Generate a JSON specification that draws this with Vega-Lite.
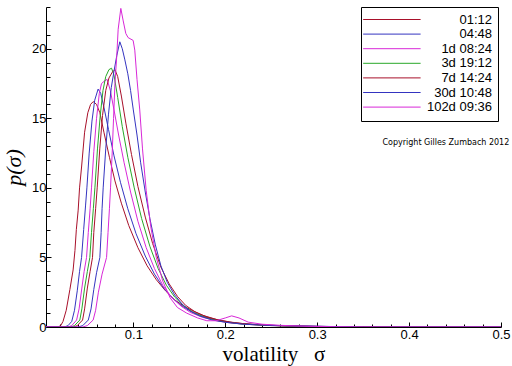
{
"$schema": "https://vega.github.io/schema/vega-lite/v6.json",
"width": 455, "height": 320,
"autosize": {"type": "none"},
"padding": {"left": 46, "top": 7, "right": 11, "bottom": 39},
"background": "white",
"config": {"view": {"stroke": null}, "axis": {"grid": false, "domainColor": "black", "tickColor": "black", "labelColor": "black", "labelFont": "Liberation Sans", "labelFontSize": 13, "titleColor": "black", "titleFont": "Liberation Serif", "titleFontWeight": "normal"}},
"resolve": {"axis": {"x": "independent", "y": "independent"}},
"datasets": {
"curves": [
{"series":"01:12","sigma":0.005,"p":0},{"series":"01:12","sigma":0.018,"p":0},{"series":"01:12","sigma":0.021,"p":0.1},{"series":"01:12","sigma":0.0235,"p":0.4},{"series":"01:12","sigma":0.027,"p":1.2},{"series":"01:12","sigma":0.031,"p":2.7},{"series":"01:12","sigma":0.0345,"p":4.1},{"series":"01:12","sigma":0.0365,"p":5.5},{"series":"01:12","sigma":0.038,"p":7.0},{"series":"01:12","sigma":0.04,"p":8.4},{"series":"01:12","sigma":0.0415,"p":10},{"series":"01:12","sigma":0.0437,"p":11.5},{"series":"01:12","sigma":0.047,"p":14},{"series":"01:12","sigma":0.0505,"p":15.4},{"series":"01:12","sigma":0.0535,"p":16.0},{"series":"01:12","sigma":0.0563,"p":16.2},{"series":"01:12","sigma":0.06,"p":16.0},{"series":"01:12","sigma":0.0636,"p":15.4},{"series":"01:12","sigma":0.068,"p":14.0},{"series":"01:12","sigma":0.074,"p":12.2},{"series":"01:12","sigma":0.08,"p":10.5},{"series":"01:12","sigma":0.087,"p":8.9},{"series":"01:12","sigma":0.095,"p":7.3},{"series":"01:12","sigma":0.105,"p":5.7},{"series":"01:12","sigma":0.115,"p":4.4},{"series":"01:12","sigma":0.125,"p":3.4},{"series":"01:12","sigma":0.135,"p":2.6},{"series":"01:12","sigma":0.145,"p":1.95},{"series":"01:12","sigma":0.155,"p":1.5},{"series":"01:12","sigma":0.165,"p":1.15},{"series":"01:12","sigma":0.175,"p":0.85},{"series":"01:12","sigma":0.19,"p":0.55},{"series":"01:12","sigma":0.205,"p":0.36},{"series":"01:12","sigma":0.22,"p":0.24},{"series":"01:12","sigma":0.25,"p":0.12},{"series":"01:12","sigma":0.28,"p":0.06},{"series":"01:12","sigma":0.32,"p":0.03},{"series":"01:12","sigma":0.38,"p":0.01},{"series":"01:12","sigma":0.42,"p":0},{"series":"01:12","sigma":0.5,"p":0},

{"series":"04:48","sigma":0.005,"p":0},{"series":"04:48","sigma":0.025,"p":0},{"series":"04:48","sigma":0.029,"p":0.1},{"series":"04:48","sigma":0.033,"p":0.4},{"series":"04:48","sigma":0.036,"p":1.2},{"series":"04:48","sigma":0.039,"p":2.6},{"series":"04:48","sigma":0.0415,"p":4.0},{"series":"04:48","sigma":0.0437,"p":5.0},{"series":"04:48","sigma":0.046,"p":7.0},{"series":"04:48","sigma":0.048,"p":8.7},{"series":"04:48","sigma":0.0495,"p":10},{"series":"04:48","sigma":0.052,"p":12.5},{"series":"04:48","sigma":0.055,"p":14.8},{"series":"04:48","sigma":0.058,"p":16.3},{"series":"04:48","sigma":0.0617,"p":17.1},{"series":"04:48","sigma":0.0645,"p":16.8},{"series":"04:48","sigma":0.068,"p":15.8},{"series":"04:48","sigma":0.073,"p":14.2},{"series":"04:48","sigma":0.079,"p":12.3},{"series":"04:48","sigma":0.086,"p":10.4},{"series":"04:48","sigma":0.094,"p":8.5},{"series":"04:48","sigma":0.103,"p":6.7},{"series":"04:48","sigma":0.113,"p":5.1},{"series":"04:48","sigma":0.123,"p":3.8},{"series":"04:48","sigma":0.133,"p":2.8},{"series":"04:48","sigma":0.143,"p":2.05},{"series":"04:48","sigma":0.153,"p":1.5},{"series":"04:48","sigma":0.163,"p":1.1},{"series":"04:48","sigma":0.175,"p":0.78},{"series":"04:48","sigma":0.19,"p":0.5},{"series":"04:48","sigma":0.205,"p":0.33},{"series":"04:48","sigma":0.22,"p":0.22},{"series":"04:48","sigma":0.25,"p":0.12},{"series":"04:48","sigma":0.28,"p":0.07},{"series":"04:48","sigma":0.31,"p":0.04},{"series":"04:48","sigma":0.335,"p":0.02},{"series":"04:48","sigma":0.36,"p":0},{"series":"04:48","sigma":0.5,"p":0},

{"series":"1d 08:24","sigma":0.005,"p":0},{"series":"1d 08:24","sigma":0.029,"p":0},{"series":"1d 08:24","sigma":0.033,"p":0.1},{"series":"1d 08:24","sigma":0.0383,"p":0.5},{"series":"1d 08:24","sigma":0.041,"p":1.3},{"series":"1d 08:24","sigma":0.044,"p":2.8},{"series":"1d 08:24","sigma":0.0465,"p":4.0},{"series":"1d 08:24","sigma":0.0491,"p":5.0},{"series":"1d 08:24","sigma":0.051,"p":6.8},{"series":"1d 08:24","sigma":0.053,"p":8.5},{"series":"1d 08:24","sigma":0.0545,"p":10},{"series":"1d 08:24","sigma":0.057,"p":12.6},{"series":"1d 08:24","sigma":0.06,"p":15},{"series":"1d 08:24","sigma":0.063,"p":16.8},{"series":"1d 08:24","sigma":0.0654,"p":17.5},{"series":"1d 08:24","sigma":0.069,"p":17.7},{"series":"1d 08:24","sigma":0.0715,"p":17.8},{"series":"1d 08:24","sigma":0.075,"p":17.0},{"series":"1d 08:24","sigma":0.079,"p":15.6},{"series":"1d 08:24","sigma":0.084,"p":13.8},{"series":"1d 08:24","sigma":0.09,"p":11.8},{"series":"1d 08:24","sigma":0.097,"p":9.7},{"series":"1d 08:24","sigma":0.105,"p":7.6},{"series":"1d 08:24","sigma":0.114,"p":5.7},{"series":"1d 08:24","sigma":0.123,"p":4.2},{"series":"1d 08:24","sigma":0.132,"p":3.0},{"series":"1d 08:24","sigma":0.142,"p":2.1},{"series":"1d 08:24","sigma":0.152,"p":1.5},{"series":"1d 08:24","sigma":0.162,"p":1.05},{"series":"1d 08:24","sigma":0.175,"p":0.7},{"series":"1d 08:24","sigma":0.19,"p":0.45},{"series":"1d 08:24","sigma":0.205,"p":0.3},{"series":"1d 08:24","sigma":0.22,"p":0.2},{"series":"1d 08:24","sigma":0.25,"p":0.1},{"series":"1d 08:24","sigma":0.28,"p":0.05},{"series":"1d 08:24","sigma":0.31,"p":0.02},{"series":"1d 08:24","sigma":0.34,"p":0},{"series":"1d 08:24","sigma":0.5,"p":0},

{"series":"3d 19:12","sigma":0.005,"p":0},{"series":"3d 19:12","sigma":0.032,"p":0},{"series":"3d 19:12","sigma":0.036,"p":0.1},{"series":"3d 19:12","sigma":0.0418,"p":0.5},{"series":"3d 19:12","sigma":0.044,"p":1.3},{"series":"3d 19:12","sigma":0.047,"p":2.8},{"series":"3d 19:12","sigma":0.05,"p":4.0},{"series":"3d 19:12","sigma":0.0527,"p":5.0},{"series":"3d 19:12","sigma":0.0545,"p":6.8},{"series":"3d 19:12","sigma":0.0565,"p":8.5},{"series":"3d 19:12","sigma":0.0582,"p":10},{"series":"3d 19:12","sigma":0.061,"p":12.8},{"series":"3d 19:12","sigma":0.064,"p":15.2},{"series":"3d 19:12","sigma":0.067,"p":17.0},{"series":"3d 19:12","sigma":0.07,"p":18.0},{"series":"3d 19:12","sigma":0.0735,"p":18.5},{"series":"3d 19:12","sigma":0.0763,"p":18.6},{"series":"3d 19:12","sigma":0.079,"p":18.1},{"series":"3d 19:12","sigma":0.083,"p":16.5},{"series":"3d 19:12","sigma":0.088,"p":14.4},{"series":"3d 19:12","sigma":0.094,"p":12.2},{"series":"3d 19:12","sigma":0.101,"p":10.0},{"series":"3d 19:12","sigma":0.109,"p":7.8},{"series":"3d 19:12","sigma":0.118,"p":5.8},{"series":"3d 19:12","sigma":0.127,"p":4.2},{"series":"3d 19:12","sigma":0.136,"p":3.0},{"series":"3d 19:12","sigma":0.145,"p":2.15},{"series":"3d 19:12","sigma":0.155,"p":1.5},{"series":"3d 19:12","sigma":0.165,"p":1.05},{"series":"3d 19:12","sigma":0.178,"p":0.7},{"series":"3d 19:12","sigma":0.19,"p":0.48},{"series":"3d 19:12","sigma":0.205,"p":0.32},{"series":"3d 19:12","sigma":0.22,"p":0.2},{"series":"3d 19:12","sigma":0.25,"p":0.1},{"series":"3d 19:12","sigma":0.28,"p":0.05},{"series":"3d 19:12","sigma":0.31,"p":0.02},{"series":"3d 19:12","sigma":0.34,"p":0},{"series":"3d 19:12","sigma":0.5,"p":0},

{"series":"7d 14:24","sigma":0.005,"p":0},{"series":"7d 14:24","sigma":0.035,"p":0},{"series":"7d 14:24","sigma":0.039,"p":0.1},{"series":"7d 14:24","sigma":0.0448,"p":0.5},{"series":"7d 14:24","sigma":0.047,"p":1.3},{"series":"7d 14:24","sigma":0.05,"p":2.8},{"series":"7d 14:24","sigma":0.053,"p":4.0},{"series":"7d 14:24","sigma":0.0556,"p":5.0},{"series":"7d 14:24","sigma":0.057,"p":6.8},{"series":"7d 14:24","sigma":0.059,"p":8.5},{"series":"7d 14:24","sigma":0.0607,"p":10},{"series":"7d 14:24","sigma":0.0635,"p":12.8},{"series":"7d 14:24","sigma":0.0665,"p":15.2},{"series":"7d 14:24","sigma":0.07,"p":17.0},{"series":"7d 14:24","sigma":0.0735,"p":17.9},{"series":"7d 14:24","sigma":0.077,"p":18.3},{"series":"7d 14:24","sigma":0.08,"p":18.5},{"series":"7d 14:24","sigma":0.083,"p":18.0},{"series":"7d 14:24","sigma":0.087,"p":16.6},{"series":"7d 14:24","sigma":0.092,"p":14.6},{"series":"7d 14:24","sigma":0.098,"p":12.4},{"series":"7d 14:24","sigma":0.105,"p":10.1},{"series":"7d 14:24","sigma":0.113,"p":7.9},{"series":"7d 14:24","sigma":0.121,"p":6.0},{"series":"7d 14:24","sigma":0.13,"p":4.3},{"series":"7d 14:24","sigma":0.139,"p":3.1},{"series":"7d 14:24","sigma":0.148,"p":2.2},{"series":"7d 14:24","sigma":0.157,"p":1.55},{"series":"7d 14:24","sigma":0.167,"p":1.1},{"series":"7d 14:24","sigma":0.18,"p":0.72},{"series":"7d 14:24","sigma":0.195,"p":0.46},{"series":"7d 14:24","sigma":0.21,"p":0.3},{"series":"7d 14:24","sigma":0.23,"p":0.18},{"series":"7d 14:24","sigma":0.26,"p":0.09},{"series":"7d 14:24","sigma":0.29,"p":0.05},{"series":"7d 14:24","sigma":0.33,"p":0.02},{"series":"7d 14:24","sigma":0.37,"p":0.01},{"series":"7d 14:24","sigma":0.4,"p":0},{"series":"7d 14:24","sigma":0.5,"p":0},

{"series":"30d 10:48","sigma":0.005,"p":0},{"series":"30d 10:48","sigma":0.04,"p":0},{"series":"30d 10:48","sigma":0.045,"p":0.1},{"series":"30d 10:48","sigma":0.051,"p":0.5},{"series":"30d 10:48","sigma":0.054,"p":1.3},{"series":"30d 10:48","sigma":0.057,"p":2.7},{"series":"30d 10:48","sigma":0.06,"p":3.9},{"series":"30d 10:48","sigma":0.0636,"p":5.0},{"series":"30d 10:48","sigma":0.065,"p":6.8},{"series":"30d 10:48","sigma":0.066,"p":8.5},{"series":"30d 10:48","sigma":0.0672,"p":10},{"series":"30d 10:48","sigma":0.07,"p":12.8},{"series":"30d 10:48","sigma":0.073,"p":15.3},{"series":"30d 10:48","sigma":0.076,"p":17.2},{"series":"30d 10:48","sigma":0.079,"p":18.4},{"series":"30d 10:48","sigma":0.082,"p":19.5},{"series":"30d 10:48","sigma":0.0853,"p":20.5},{"series":"30d 10:48","sigma":0.088,"p":20.0},{"series":"30d 10:48","sigma":0.0908,"p":19.2},{"series":"30d 10:48","sigma":0.094,"p":18.2},{"series":"30d 10:48","sigma":0.097,"p":17.0},{"series":"30d 10:48","sigma":0.1,"p":15.6},{"series":"30d 10:48","sigma":0.104,"p":13.8},{"series":"30d 10:48","sigma":0.108,"p":11.8},{"series":"30d 10:48","sigma":0.113,"p":9.7},{"series":"30d 10:48","sigma":0.118,"p":7.8},{"series":"30d 10:48","sigma":0.124,"p":5.9},{"series":"30d 10:48","sigma":0.13,"p":4.4},{"series":"30d 10:48","sigma":0.137,"p":3.2},{"series":"30d 10:48","sigma":0.145,"p":2.3},{"series":"30d 10:48","sigma":0.153,"p":1.65},{"series":"30d 10:48","sigma":0.162,"p":1.15},{"series":"30d 10:48","sigma":0.172,"p":0.8},{"series":"30d 10:48","sigma":0.185,"p":0.52},{"series":"30d 10:48","sigma":0.2,"p":0.34},{"series":"30d 10:48","sigma":0.22,"p":0.2},{"series":"30d 10:48","sigma":0.25,"p":0.11},{"series":"30d 10:48","sigma":0.28,"p":0.07},{"series":"30d 10:48","sigma":0.31,"p":0.04},{"series":"30d 10:48","sigma":0.33,"p":0.02},{"series":"30d 10:48","sigma":0.35,"p":0},{"series":"30d 10:48","sigma":0.5,"p":0},

{"series":"102d 09:36","sigma":0.005,"p":0},{"series":"102d 09:36","sigma":0.045,"p":0},{"series":"102d 09:36","sigma":0.05,"p":0.1},{"series":"102d 09:36","sigma":0.0563,"p":0.5},{"series":"102d 09:36","sigma":0.059,"p":1.2},{"series":"102d 09:36","sigma":0.062,"p":2.5},{"series":"102d 09:36","sigma":0.066,"p":3.8},{"series":"102d 09:36","sigma":0.0709,"p":5.0},{"series":"102d 09:36","sigma":0.0725,"p":6.8},{"series":"102d 09:36","sigma":0.074,"p":8.5},{"series":"102d 09:36","sigma":0.0752,"p":10},{"series":"102d 09:36","sigma":0.077,"p":12.5},{"series":"102d 09:36","sigma":0.0785,"p":15},{"series":"102d 09:36","sigma":0.08,"p":17.5},{"series":"102d 09:36","sigma":0.082,"p":19.5},{"series":"102d 09:36","sigma":0.0835,"p":21.4},{"series":"102d 09:36","sigma":0.0864,"p":22.9},{"series":"102d 09:36","sigma":0.089,"p":22.0},{"series":"102d 09:36","sigma":0.0918,"p":21.1},{"series":"102d 09:36","sigma":0.0943,"p":20.8},{"series":"102d 09:36","sigma":0.0998,"p":20.6},{"series":"102d 09:36","sigma":0.1016,"p":19.9},{"series":"102d 09:36","sigma":0.104,"p":17.8},{"series":"102d 09:36","sigma":0.107,"p":15.6},{"series":"102d 09:36","sigma":0.11,"p":12.8},{"series":"102d 09:36","sigma":0.114,"p":9.8},{"series":"102d 09:36","sigma":0.119,"p":7.2},{"series":"102d 09:36","sigma":0.125,"p":5.0},{"series":"102d 09:36","sigma":0.132,"p":3.3},{"series":"102d 09:36","sigma":0.14,"p":2.1},{"series":"102d 09:36","sigma":0.148,"p":1.4},{"series":"102d 09:36","sigma":0.158,"p":1.0},{"series":"102d 09:36","sigma":0.17,"p":0.65},{"series":"102d 09:36","sigma":0.18,"p":0.45},{"series":"102d 09:36","sigma":0.19,"p":0.45},{"series":"102d 09:36","sigma":0.2,"p":0.65},{"series":"102d 09:36","sigma":0.207,"p":0.8},{"series":"102d 09:36","sigma":0.215,"p":0.65},{"series":"102d 09:36","sigma":0.225,"p":0.35},{"series":"102d 09:36","sigma":0.24,"p":0.2},{"series":"102d 09:36","sigma":0.26,"p":0.12},{"series":"102d 09:36","sigma":0.29,"p":0.05},{"series":"102d 09:36","sigma":0.32,"p":0.02},{"series":"102d 09:36","sigma":0.35,"p":0},{"series":"102d 09:36","sigma":0.5,"p":0}
],
"note": [{"sigma": 0.509, "p": 13.24, "text": "Copyright Gilles Zumbach 2012"}]
},
"layer": [
{
"data": {"name": "curves"},
"mark": {"type": "line", "strokeWidth": 1, "clip": true},
"encoding": {
"x": {"field": "sigma", "type": "quantitative", "scale": {"domain": [0.005, 0.5], "nice": false, "zero": false},
 "axis": {"orient": "bottom", "title": "volatility\u00a0\u00a0\u00a0σ", "titleFontSize": 21, "titlePadding": 2,
  "values": [0.1, 0.2, 0.3, 0.4, 0.5], "format": ".1f",
  "tickSize": -5, "labelPadding": 6, "labelFlush": false, "labelOverlap": false}},
"y": {"field": "p", "type": "quantitative", "scale": {"domain": [0, 23], "nice": false},
 "axis": {"orient": "left", "title": "p(σ)", "titleFontSize": 22, "titleFontStyle": "italic", "titlePadding": 6,
  "values": [0, 5, 10, 15, 20],
  "tickSize": -5, "labelPadding": 5, "labelOverlap": false}},
"color": {"field": "series", "type": "nominal",
 "scale": {"domain": ["01:12","04:48","1d 08:24","3d 19:12","7d 14:24","30d 10:48","102d 09:36"],
  "range": ["#A8102A","#3434C0","#D828D8","#28A828","#A8102A","#3434C0","#D828D8"]},
 "legend": {"orient": "none", "legendX": 315, "legendY": 0, "title": null,
  "symbolType": "M-1.8,0H8.2", "symbolSize": 132, "symbolStrokeWidth": 1,
  "labelAlign": "right", "labelOffset": 112, "labelFont": "Liberation Sans", "labelFontSize": 13, "labelColor": "black",
  "strokeColor": "black", "fillColor": "white", "padding": 6, "rowPadding": 0.6}}
}
},
{
"data": {"name": "note"},
"mark": {"type": "text", "align": "right", "baseline": "middle", "fontSize": 8, "font": "DejaVu Sans", "color": "black"},
"encoding": {
"x": {"field": "sigma", "type": "quantitative", "scale": {"domain": [0.005, 0.5], "nice": false, "zero": false},
 "axis": {"orient": "bottom", "title": null, "labels": false, "domain": false, "tickSize": -3,
  "values": [0.02,0.04,0.06,0.08,0.12,0.14,0.16,0.18,0.22,0.24,0.26,0.28,0.32,0.34,0.36,0.38,0.42,0.44,0.46,0.48]}},
"y": {"field": "p", "type": "quantitative", "scale": {"domain": [0, 23], "nice": false},
 "axis": {"orient": "left", "title": null, "labels": false, "domain": false, "tickSize": -4,
  "values": [1,2,3,4,6,7,8,9,11,12,13,14,16,17,18,19,21,22,23]}},
"text": {"field": "text"}
}
}
]
}
